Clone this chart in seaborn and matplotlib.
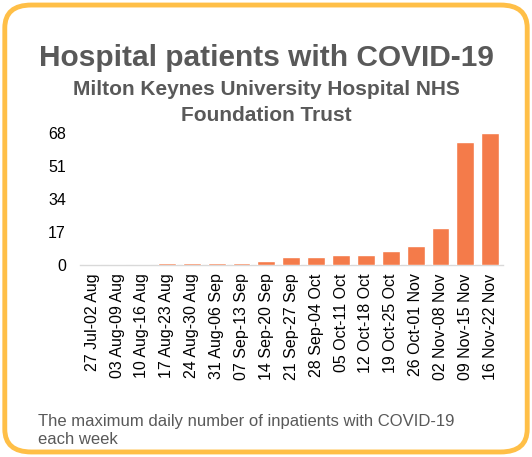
import matplotlib.pyplot as plt
import seaborn as sns
import pandas as pd
from matplotlib.patches import FancyBboxPatch

weeks = ["27 Jul-02 Aug", "03 Aug-09 Aug", "10 Aug-16 Aug", "17 Aug-23 Aug",
         "24 Aug-30 Aug", "31 Aug-06 Sep", "07 Sep-13 Sep", "14 Sep-20 Sep",
         "21 Sep-27 Sep", "28 Sep-04 Oct", "05 Oct-11 Oct", "12 Oct-18 Oct",
         "19 Oct-25 Oct", "26 Oct-01 Nov", "02 Nov-08 Nov", "09 Nov-15 Nov",
         "16 Nov-22 Nov"]
patients = [0, 0, 0, 1, 1, 1, 1, 2, 4, 4, 5, 5, 7, 10, 19, 63, 68]
yticks = [0, 17, 34, 51, 68]

df = pd.DataFrame({"week": weeks, "patients": patients})

sns.set_style("white")
plt.rcParams['font.family'] = ['Liberation Sans', 'DejaVu Sans']

grey = "#595959"
fig = plt.figure(figsize=(5.32, 4.57), dpi=100)

# rounded orange frame
frame = FancyBboxPatch((0.009, 0.011), 0.982, 0.978,
                       boxstyle="round,pad=0,rounding_size=0.05",
                       transform=fig.transFigure, facecolor="none",
                       edgecolor="#FFBF47", linewidth=3.5, zorder=5)
fig.patches.append(frame)

ax = fig.add_axes([0.150, 0.420, 0.795, 0.290])
sns.barplot(data=df, x="week", y="patients", color="#F47B4A",
            saturation=1, width=0.72, ax=ax)
ax.set_ylim(0, 68)
ax.set_yticks(yticks)
ax.set_xlabel("")
ax.set_ylabel("")
ax.patch.set_alpha(0)
for s in ["top", "right", "left"]:
    ax.spines[s].set_visible(False)
ax.spines["bottom"].set_color("#D9D9D9")
ax.spines["bottom"].set_linewidth(1.0)
ax.spines["bottom"].set_zorder(0.5)
ax.tick_params(axis="x", labelrotation=90, labelsize=11.5, length=0,
               colors="black", pad=6)
ax.tick_params(axis="y", labelsize=11.5, length=0, colors="black", pad=10)

fig.text(0.5, 0.874, "Hospital patients with COVID-19", ha="center",
         va="center", fontsize=21.5, fontweight="bold", color=grey)
fig.text(0.5, 0.775, "Milton Keynes University Hospital NHS\nFoundation Trust",
         ha="center", va="center", fontsize=15, fontweight="bold",
         color=grey, linespacing=1.45)
fig.text(0.071, 0.058, "The maximum daily number of inpatients with COVID-19\neach week",
         ha="left", va="center", fontsize=12, color=grey, linespacing=1.3)

fig.savefig("out.png", dpi=100)
